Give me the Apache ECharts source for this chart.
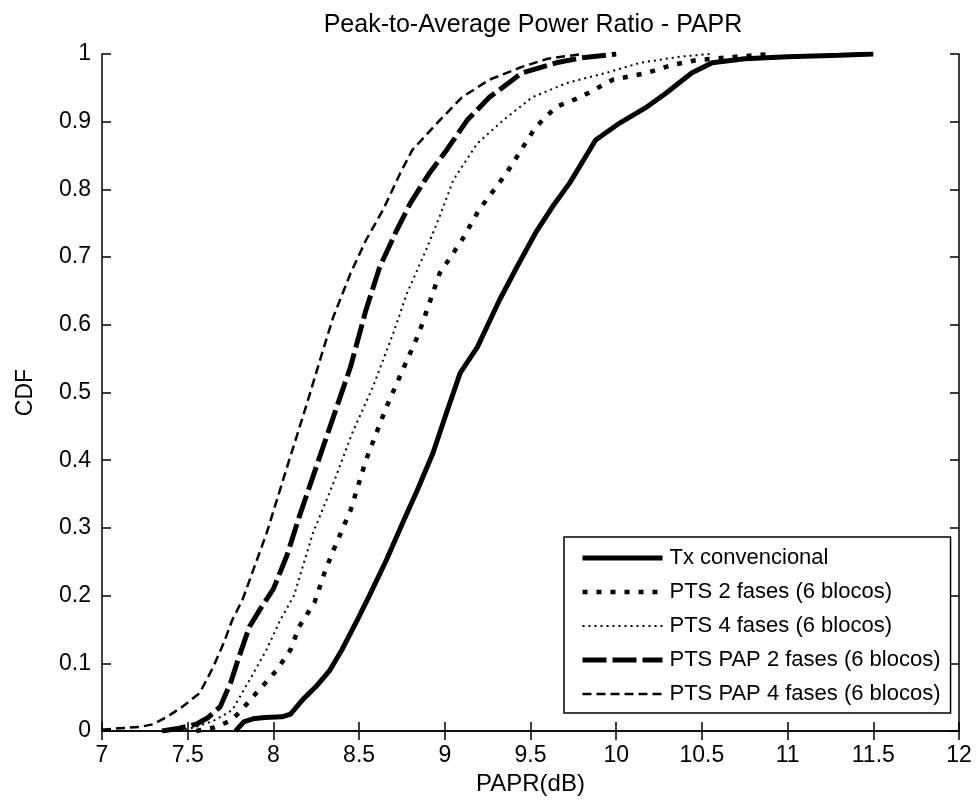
<!DOCTYPE html>
<html>
<head>
<meta charset="utf-8">
<script src="https://cdn.jsdelivr.net/npm/echarts@6/dist/echarts.min.js"></script>
<style>html,body{margin:0;padding:0;background:#fff}#c{width:977px;height:803px}</style>
</head>
<body>
<div id="c"></div>
<script>
var titleText = 'Peak-to-Average Power Ratio - PAPR';
var xName = 'PAPR(dB)';
var yName = 'CDF';
var seriesNames = ['Tx convencional','PTS 2 fases (6 blocos)','PTS 4 fases (6 blocos)','PTS PAP 2 fases (6 blocos)','PTS PAP 4 fases (6 blocos)'];

var txConv = [[7.78,0],[7.80,0.006],[7.83,0.014],[7.88,0.018],[7.95,0.02],[8.05,0.021],[8.10,0.025],[8.17,0.046],[8.25,0.066],[8.33,0.09],[8.40,0.12],[8.49,0.164],[8.56,0.20],[8.66,0.253],[8.75,0.305],[8.84,0.356],[8.93,0.41],[9.01,0.47],[9.09,0.529],[9.19,0.567],[9.32,0.637],[9.42,0.685],[9.53,0.736],[9.63,0.775],[9.73,0.81],[9.88,0.873],[10.02,0.898],[10.18,0.922],[10.29,0.942],[10.44,0.972],[10.56,0.987],[10.75,0.993],[11.0,0.996],[11.3,0.998],[11.5,1]];
var pts2 = [[7.55,0],[7.65,0.005],[7.75,0.015],[7.80,0.027],[7.90,0.056],[8.02,0.09],[8.10,0.12],[8.15,0.154],[8.24,0.19],[8.30,0.235],[8.35,0.267],[8.45,0.326],[8.54,0.40],[8.66,0.479],[8.78,0.548],[8.85,0.588],[8.97,0.676],[9.10,0.725],[9.20,0.77],[9.36,0.824],[9.53,0.892],[9.65,0.922],[9.79,0.936],[9.98,0.962],[10.18,0.972],[10.33,0.984],[10.47,0.991],[10.7,0.996],[10.9,1]];
var pts4 = [[7.45,0],[7.55,0.006],[7.65,0.015],[7.76,0.031],[7.86,0.075],[7.96,0.12],[8.04,0.164],[8.12,0.2],[8.23,0.292],[8.35,0.366],[8.46,0.44],[8.58,0.508],[8.70,0.588],[8.78,0.647],[8.89,0.71],[8.97,0.76],[9.05,0.814],[9.19,0.868],[9.34,0.902],[9.51,0.936],[9.71,0.957],[9.94,0.972],[10.14,0.987],[10.37,0.996],[10.55,1]];
var ptsPap2 = [[7.35,0],[7.45,0.004],[7.55,0.01],[7.62,0.02],[7.69,0.036],[7.75,0.071],[7.80,0.11],[7.86,0.154],[7.93,0.183],[8.0,0.21],[8.08,0.26],[8.15,0.316],[8.25,0.39],[8.35,0.464],[8.45,0.538],[8.54,0.622],[8.62,0.685],[8.72,0.74],[8.80,0.78],[8.91,0.824],[9.01,0.858],[9.13,0.902],[9.26,0.936],[9.45,0.972],[9.65,0.987],[9.79,0.994],[10.0,1]];
var ptsPap4 = [[7.0,0.002],[7.1,0.004],[7.22,0.006],[7.30,0.01],[7.38,0.021],[7.47,0.036],[7.57,0.056],[7.65,0.095],[7.71,0.13],[7.76,0.164],[7.82,0.194],[7.90,0.25],[7.96,0.292],[8.08,0.39],[8.19,0.479],[8.29,0.563],[8.35,0.612],[8.45,0.676],[8.54,0.725],[8.64,0.77],[8.74,0.824],[8.81,0.858],[8.97,0.902],[9.10,0.936],[9.26,0.962],[9.45,0.981],[9.6,0.993],[9.8,1]];

var xMin = 7, xMax = 12, xStep = 0.5;
var yMin = 0, yMax = 1, yStep = 0.1;

var FONT = '"Liberation Sans", Arial, sans-serif';
var chart = echarts.init(document.getElementById('c'), null, {renderer: 'canvas'});

var styles = [
  {width: 5, type: 'solid'},
  {width: 4.5, type: [5, 9]},
  {width: 2, type: [2, 4]},
  {width: 5, type: [24, 6]},
  {width: 2.5, type: [9, 5]}
];
var datasets = [txConv, pts2, pts4, ptsPap2, ptsPap4];

function fmt(v){ return String(Math.round(v*10)/10); }

var axisLineStyle = {lineStyle: {color: '#000', width: 1.5}};
var tick = {inside: true, length: 9, lineStyle: {color: '#000', width: 1.5}};
var option = {
  animation: false,
  backgroundColor: '#fff',
  title: {
    text: titleText, left: 528, top: 8, textAlign: 'center',
    textStyle: {fontFamily: FONT, fontSize: 25, fontWeight: 'normal', color: '#000'}
  },
  grid: {left: 102, right: 18, top: 54, bottom: 72, containLabel: false},
  xAxis: [
    {type: 'value', min: xMin, max: xMax, interval: xStep, position: 'bottom',
     name: xName, nameLocation: 'middle', nameGap: 41,
     nameTextStyle: {fontFamily: FONT, fontSize: 24, color: '#000'},
     axisLine: axisLineStyle, axisTick: tick,
     axisLabel: {fontFamily: FONT, fontSize: 23, color: '#000', margin: 13, formatter: fmt},
     splitLine: {show: false}},
    {type: 'value', min: xMin, max: xMax, interval: xStep, position: 'top',
     axisLine: axisLineStyle, axisTick: tick,
     axisLabel: {show: false}, splitLine: {show: false}}
  ],
  yAxis: [
    {type: 'value', min: yMin, max: yMax, interval: yStep, position: 'left',
     name: yName, nameLocation: 'middle', nameGap: 65, nameRotate: 90,
     nameTextStyle: {fontFamily: FONT, fontSize: 23, color: '#000'},
     axisLine: axisLineStyle, axisTick: tick,
     axisLabel: {fontFamily: FONT, fontSize: 23, color: '#000', margin: 11, formatter: fmt},
     splitLine: {show: false}},
    {type: 'value', min: yMin, max: yMax, interval: yStep, position: 'right',
     axisLine: axisLineStyle, axisTick: tick,
     axisLabel: {show: false}, splitLine: {show: false}}
  ],
  legend: {
    orient: 'vertical', left: 564, top: 537,
    padding: [10, 10, 8, 16],
    borderColor: '#000', borderWidth: 1.5, backgroundColor: '#fff',
    itemWidth: 80, itemHeight: 14, itemGap: 12,
    selectedMode: false,
    itemStyle: {opacity: 0},
    lineStyle: {width: 'inherit', type: 'inherit'},
    textStyle: {fontFamily: FONT, fontSize: 22, color: '#000', padding: [0,0,0,2]},
    data: seriesNames.map(function(n, i){
      return {name: n, lineStyle: {width: styles[i].width, type: styles[i].type, color: '#000'}};
    })
  },
  series: seriesNames.map(function(n, i){
    return {
      name: n, type: 'line', data: datasets[i], xAxisIndex: 0, yAxisIndex: 0,
      showSymbol: false, symbol: 'none', animation: false, silent: true,
      lineStyle: {color: '#000', width: styles[i].width, type: styles[i].type}
    };
  })
};
chart.setOption(option);
</script>
</body>
</html>
